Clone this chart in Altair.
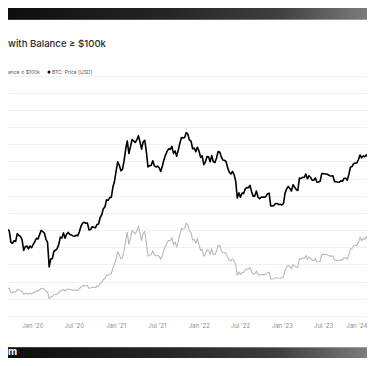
import altair as alt
import pandas as pd

# ---------------- data (weekly, Sundays) ----------------
# BTC price [USD]
price_2019 = [11400, 10300, 10150, 9800, 10400, 10300, 10050, 8050, 7900, 8300, 8200,
              9550, 9200, 9030, 8500, 6900, 7400, 7500, 7100, 7500, 7250]
price_2020 = [7750, 8150, 8700, 8600, 9350, 10150, 9900, 9650, 8530, 8030, 5000, 5830, 5880,
              6780, 6910, 7130, 7700, 8900, 8750, 9670, 8720, 9450, 9760, 9390, 9300, 9120,
              9070, 9240, 9160, 9930, 11050, 11680, 11870, 11650, 11700, 10250, 10330, 10920,
              10780, 10670, 11380, 11500, 13030, 13740, 15480, 15960, 18400, 18180, 19150,
              19270, 23500, 26300]
price_2021 = [32000, 38300, 36000, 32300, 33100, 39000, 48900, 57500, 45100, 51200, 59000,
              57500, 55800, 58700, 63500, 56300, 49000, 56600, 58200, 46500, 34700, 35600,
              35800, 39100, 35500, 34700, 35300, 34200, 31800, 35400, 39900, 43800, 47000,
              49300, 48800, 51750, 45200, 47300, 42800, 48200, 54900, 61500, 60900, 61300,
              67500, 65500, 58600, 57200, 49400, 50100, 46700, 50800]
price_2022 = [47300, 41800, 43100, 36300, 38200, 42400, 42200, 38400, 43200, 38400, 37800,
              41300, 46800, 46400, 42200, 39700, 39500, 38500, 34100, 31300, 30300, 31800,
              29900, 26600, 19000, 21000, 19300, 20900, 20800, 22600, 23300, 23200, 24300,
              21500, 19600, 19800, 21800, 19400, 18800, 19300, 19400, 19300, 19600, 20600,
              20900, 16300, 16300, 16450, 17100, 17100, 16750, 16840]
price_2023 = [16600, 17100, 20900, 22700, 23800, 22900, 21800, 24600, 23500, 22400, 22000,
              28000, 27800, 28400, 28300, 30300, 27600, 29300, 28400, 26900, 26800, 28100,
              25800, 25900, 26300, 30500, 30600, 30300, 30300, 29800, 29300, 29100, 29300,
              26100, 26100, 25900, 25800, 26500, 26300, 27900, 27900, 26900, 30000, 34500,
              35000, 37000, 37400, 37500, 39900, 43800, 41400, 43000, 42300]
price_2024 = [43900, 41800, 41600, 42000, 42600, 48300, 51600]

# Number of addresses with balance >= $100k (thousands)
addr_2019 = [34.8, 32.5, 32.2, 31.5, 32.7, 32.5, 32.0, 27.7, 27.3, 28.2, 28.0, 31.0, 30.2,
             29.9, 28.7, 25.0, 26.2, 26.4, 25.5, 26.4, 25.8]
addr_2020 = [27.0, 27.9, 29.1, 28.9, 30.6, 32.2, 31.7, 31.2, 28.8, 27.7, 20.2, 22.4, 22.5,
             24.7, 25.0, 25.6, 26.9, 29.6, 29.2, 31.2, 29.1, 30.8, 31.4, 30.7, 30.5, 30.1,
             30.0, 30.3, 30.1, 31.8, 34.0, 35.3, 35.7, 35.3, 35.4, 32.4, 32.6, 33.8, 33.5,
             33.2, 34.8, 35.0, 38.0, 39.4, 42.6, 43.4, 47.7, 47.4, 49.0, 49.2, 56.1, 60.3]
addr_2021 = [66.3, 74.7, 71.7, 66.8, 67.8, 75.6, 87.7, 97.7, 83.2, 90.4, 99.2, 97.7, 95.7,
             98.9, 104.0, 96.3, 87.9, 96.6, 98.3, 84.9, 70.0, 71.1, 71.4, 75.8, 71.0, 70.0,
             70.7, 69.3, 66.1, 70.8, 76.7, 81.6, 85.5, 88.2, 87.7, 91.1, 83.3, 85.9, 80.4,
             86.9, 94.7, 101.9, 101.2, 101.7, 108.2, 106.2, 98.8, 97.3, 88.4, 89.2, 85.1, 89.9]
addr_2022 = [82.8, 76.3, 77.8, 69.5, 71.9, 77.0, 76.7, 72.1, 77.9, 72.1, 71.3, 75.6, 82.1,
             81.7, 76.7, 73.7, 73.5, 72.9, 68.1, 65.1, 64.3, 66.4, 64.4, 59.6, 47.7, 51.1,
             48.2, 50.9, 50.7, 53.6, 54.7, 54.5, 56.2, 51.8, 48.7, 49.1, 52.2, 48.4, 47.4,
             48.2, 48.4, 48.2, 48.7, 50.4, 50.9, 43.1, 43.1, 43.4, 44.5, 44.5, 43.9, 44.1]
addr_2023 = [44.6, 45.9, 53.5, 57.0, 58.9, 57.4, 55.4, 60.1, 58.3, 57.0, 56.4, 66.7, 66.5,
             67.4, 67.2, 70.3, 66.1, 68.7, 67.4, 65.0, 64.8, 66.9, 63.2, 63.4, 63.9, 71.3,
             72.0, 71.6, 71.6, 70.7, 70.0, 69.7, 70.0, 64.9, 64.9, 64.6, 64.4, 65.6, 65.1,
             67.8, 67.8, 66.2, 71.2, 78.0, 78.7, 81.6, 82.3, 82.4, 85.9, 91.4, 88.0, 90.3, 89.3]
addr_2024 = [92.3, 89.4, 90.0, 90.5, 92.1, 101.9, 108.3]

# x-axis labels: (year, month) of each tick
tick_months = [(2020, 1), (2020, 7), (2021, 1), (2021, 7), (2022, 1),
               (2022, 7), (2023, 1), (2023, 7), (2024, 1)]
grid_values = [0, 20, 40, 60, 80, 100, 120, 140, 160, 180, 200, 220, 240, 260, 280]

# texts as visible in the (cropped) reference
title_text = "with Balance ≥ $100k"
legend_addr = "ance ≥ $100k"
legend_price = "BTC: Price [USD]"
footer_text = "m"

# ---------------- table ----------------
prices = price_2019 + price_2020 + price_2021 + price_2022 + price_2023 + price_2024
addresses = addr_2019 + addr_2020 + addr_2021 + addr_2022 + addr_2023 + addr_2024
dates = pd.date_range("2019-08-11", periods=len(prices), freq="7D").strftime("%Y-%m-%d").tolist()
df = pd.DataFrame({"date": dates, "price": prices, "addresses": addresses})
one = pd.DataFrame({"k": [0]})


def dt(y, m, d, h=0, mi=0):
    return alt.DateTime(year=y, month=m, date=d, hours=h, minutes=mi, utc=True)


W, H, PAD_B = 359, 308, 42
FONT = "Inter"

x_scale = alt.Scale(type="utc", domain=[dt(2019, 9, 16, 7), dt(2024, 1, 9, 18, 45)])
x_axis = alt.Axis(values=[dt(y, m, 1) for y, m in tick_months], format="%b '%y",
                  labelFont=FONT, labelFontSize=6, labelColor="#8c8c8c",
                  ticks=False, tickSize=0, domain=False, grid=False, title=None,
                  labelPadding=6, labelFlush=4, labelFlushOffset=2, labelOverlap=False)

gray = alt.Chart(df).mark_line(color="#b8b8b8", strokeWidth=1.1, clip=True).encode(
    x=alt.X("date:T", scale=x_scale, axis=x_axis),
    y=alt.Y("addresses:Q", scale=alt.Scale(domain=[0, 358.7], nice=False, zero=False),
            axis=alt.Axis(values=grid_values, grid=True, gridColor="#f1f1f1", gridWidth=1,
                          labels=False, ticks=False, domain=False, title=None)),
)

black = alt.Chart(df).mark_line(color="#000000", strokeWidth=1.6, clip=True,
                                strokeJoin="round").encode(
    x=alt.X("date:T", scale=x_scale, axis=x_axis),
    y=alt.Y("price:Q", scale=alt.Scale(type="log", domain=[1931.5, 755900], nice=False),
            axis=None),
)


def grad(stops):
    return alt.Gradient(gradient="linear",
                        stops=[alt.GradientStop(color=c, offset=o) for o, c in stops],
                        x1=0, x2=1, y1=0, y2=0)


band_stops = [(0, "#0e0e0e"), (0.45, "#262626"), (0.75, "#3e3e3e"), (1, "#7c7c7c")]
edge_stops = [(0, "#3a3a3a"), (0.5, "#5a5a5a"), (1, "#a0a0a0")]

top_band = alt.Chart(one).mark_rect(color=grad(band_stops)).encode(
    x=alt.value(0), x2=alt.value(W), y=alt.value(0), y2=alt.value(12))
top_edge = alt.Chart(one).mark_rect(color=grad(edge_stops)).encode(
    x=alt.value(0), x2=alt.value(W), y=alt.value(11), y2=alt.value(12))
bot_band = alt.Chart(one).mark_rect(color=grad(band_stops)).encode(
    x=alt.value(0), x2=alt.value(W), y=alt.value(339), y2=alt.value(H + PAD_B))
bot_edge = alt.Chart(one).mark_rect(color=grad(edge_stops)).encode(
    x=alt.value(0), x2=alt.value(W), y=alt.value(339), y2=alt.value(340))

title = alt.Chart(one).mark_text(text=title_text, align="left", baseline="middle",
                                 font=FONT, fontSize=9.6, fontWeight=500,
                                 color="#2a2a2a").encode(x=alt.value(0), y=alt.value(35.5))
leg_addr = alt.Chart(one).mark_text(text=legend_addr, align="left", baseline="middle",
                                    font=FONT, fontSize=5, color="#555555").encode(
    x=alt.value(0), y=alt.value(64))
leg_dot = alt.Chart(one).mark_circle(color="#000000", size=9, opacity=1).encode(
    x=alt.value(41), y=alt.value(64))
leg_price = alt.Chart(one).mark_text(text=legend_price, align="left", baseline="middle",
                                     font=FONT, fontSize=5, color="#555555").encode(
    x=alt.value(44), y=alt.value(64))
footer = alt.Chart(one).mark_text(text=footer_text, align="left", baseline="middle",
                                  font=FONT, fontSize=10, fontWeight="bold",
                                  color="#ffffff").encode(x=alt.value(0), y=alt.value(344))

chart = alt.layer(
    gray, black, top_band, top_edge, bot_band, bot_edge,
    title, leg_addr, leg_dot, leg_price, footer,
).resolve_scale(y="independent").properties(
    width=W, height=H,
    padding={"left": 0, "top": 0, "right": 0, "bottom": PAD_B},
    autosize=alt.AutoSizeParams(type="none"),
    background="#ffffff",
).configure_view(stroke=None)

chart.save("out.html", embed_options={"renderer": "svg", "actions": False})
